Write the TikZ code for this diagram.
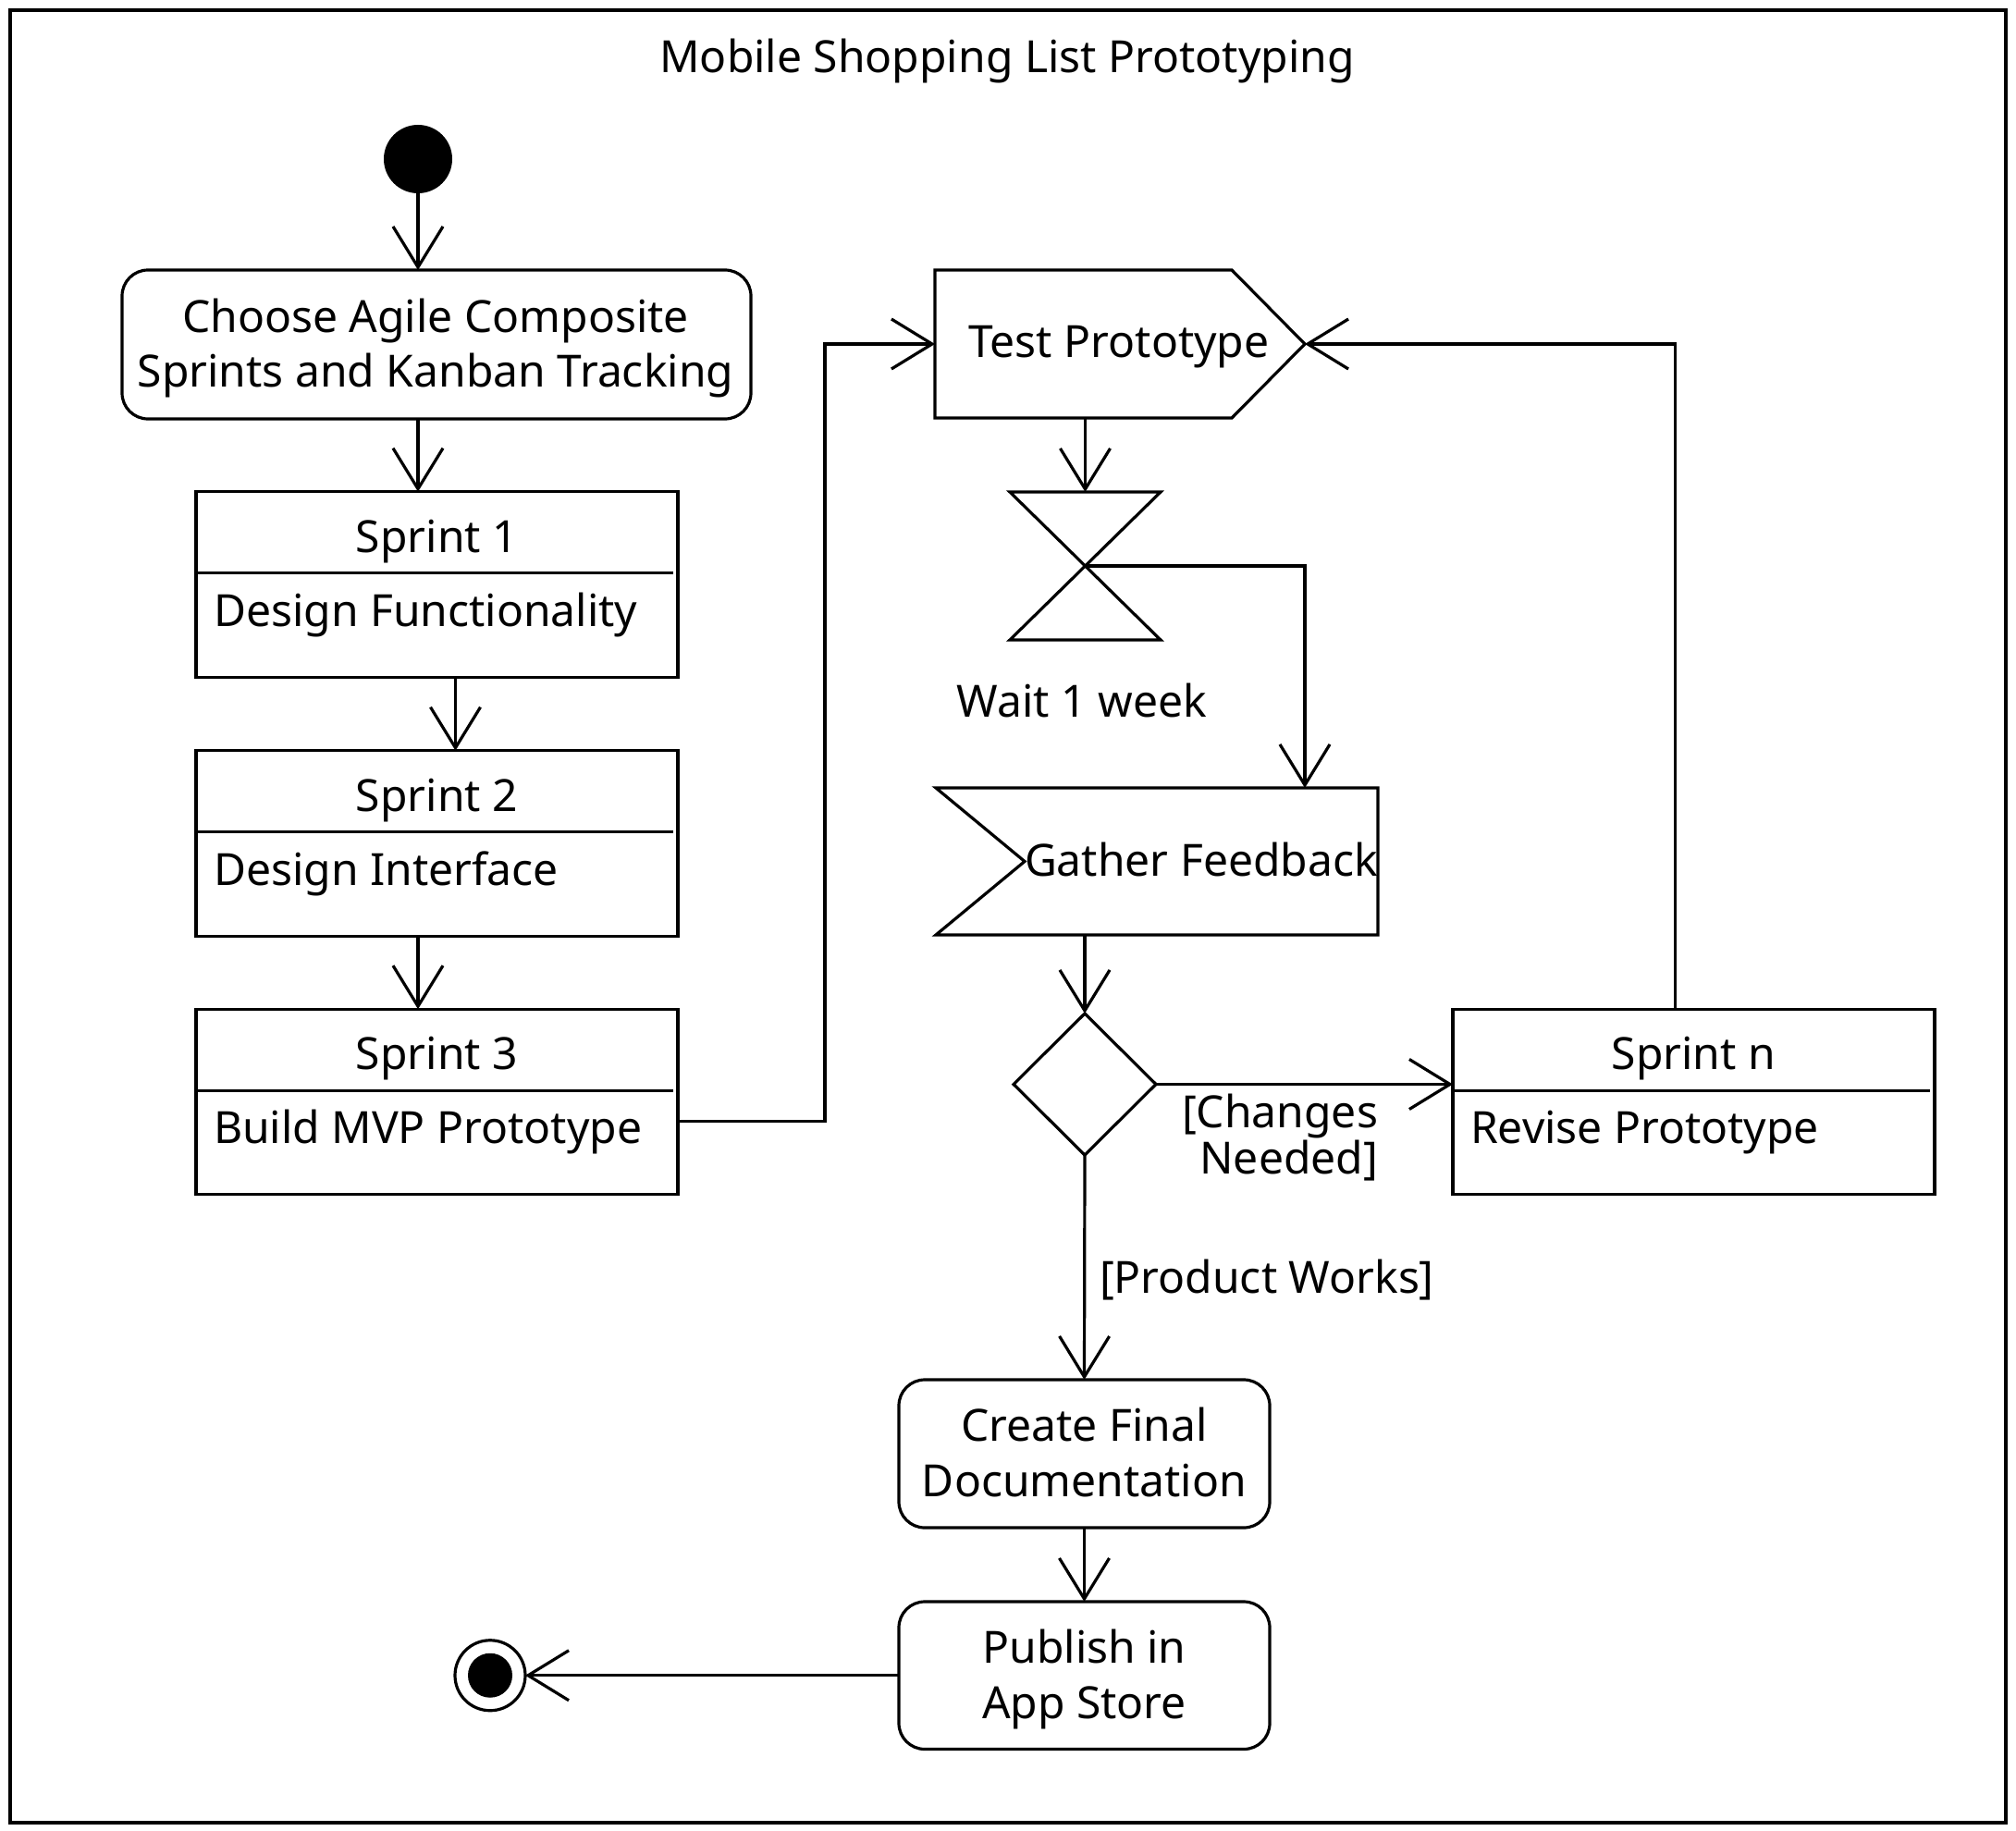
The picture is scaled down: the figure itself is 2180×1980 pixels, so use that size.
\documentclass[tikz,border=0pt]{standalone}
\usepackage{fontspec}
\setmainfont{Noto Sans}
\usetikzlibrary{arrows.meta,calc,shapes.geometric}
\begin{document}
\begin{tikzpicture}[x=0.5pt,y=-0.5pt,line width=1.6pt,
  every node/.style={inner sep=0pt,outer sep=0pt},
  txt/.style={font=\fontsize{24pt}{30pt}\selectfont,anchor=base},
  flow/.style={-{Straight Barb[length=22pt,width=27pt,line width=1.6pt]}},
  sprintbox/.style={draw,minimum width=260.5pt,minimum height=100.25pt},
  actbox/.style={draw,rounded corners=14pt}]
\path[use as bounding box] (0,0) rectangle (2180,1980);
\node[draw,minimum width=1079pt,minimum height=980pt] (frame) at (1090,991) {};
\node[txt] (title) at (1089,79) {Mobile Shopping List Prototyping};

% initial
\node[circle,fill,minimum size=37pt] (init) at (452,172) {};
% choose
\node[actbox,minimum width=340pt,minimum height=80.5pt] (choose) at (472,372.5) {};
\node[txt] (chooseA) at (471,359) {Choose Agile Composite};
\node[txt] (chooseB) at (471,418) {Sprints and Kanban Tracking};

% sprints
\node[sprintbox] (s1) at (472.5,632) {};
\node[sprintbox] (s2) at (472.5,912) {};
\node[sprintbox] (s3) at (472.5,1191.5) {};
\node[sprintbox] (sn) at (1831.5,1191.5) {};
\foreach \b/\t/\d in {s1/Sprint 1/Design Functionality,s2/Sprint 2/Design Interface,s3/Sprint 3/Build MVP Prototype,sn/Sprint n/Revise Prototype}{
  \draw ($(\b.north west)+(0,88)$) -- ($(\b.north east)+(-5,88)$);
  \node[txt] (\b t) at ($(\b.north)+(0,65.5)$) {\t};
  \node[txt,anchor=base west] (\b d) at ($(\b.north west)+(19,145.5)$) {\d};
}

% test prototype (send signal)
\node[minimum width=200pt,minimum height=80pt] (test) at (1211,372) {};
\draw (test.north west) -- ++(321,0) -- (test.east) -- ($(test.south west)+(321,0)$) -- (test.south west) -- cycle;
\node[txt] (testt) at (1210,386) {Test Prototype};

% timer
\node[minimum width=81.5pt,minimum height=80pt] (timer) at (1173.5,612) {};
\draw (timer.north west) -- (timer.north east) -- (timer.south west) -- (timer.south east) -- cycle;
\node[txt] (timert) at (1170,775) {Wait 1 week};

% gather feedback (accept event)
\node[minimum width=239pt,minimum height=79.5pt] (gather) at (1251,931.5) {};
\draw (gather.north west) -- (gather.north east) -- (gather.south east) -- (gather.south west) -- ($(gather.west)+(96,0)$) -- cycle;
\node[txt,anchor=base west] (gathert) at (1108,947) {Gather Feedback};

% decision
\node[diamond,draw,minimum width=77pt,minimum height=76.5pt] (dec) at (1173,1172.5) {};

% create / publish
\node[actbox,minimum width=200.5pt,minimum height=80pt] (create) at (1172.5,1572) {};
\node[txt] (createA) at (1172.5,1558) {Create Final};
\node[txt] (createB) at (1172.5,1618) {Documentation};
\node[actbox,minimum width=200.5pt,minimum height=79.75pt] (publish) at (1172.5,1811.75) {};
\node[txt] (publishA) at (1172.5,1798) {Publish in};
\node[txt] (publishB) at (1172.5,1858) {App Store};

% final
\node[circle,draw,minimum size=38pt] (final) at (530,1811.75) {};
\node[circle,fill,minimum size=24pt] (finalin) at (530,1811.75) {};

% connectors
\draw[flow] (init.south) -- (init.south |- choose.north);
\draw[flow] (choose.south -| init) -- (s1.north -| init);
\draw[flow] ($(s1.south)+(20,0)$) -- ($(s2.north)+(20,0)$);
\draw[flow] (s2.south -| init) -- (s3.north -| init);
\coordinate (s3out) at ($(s3.north east)+(0,121)$);
\draw[flow] (s3out) -- ++(159,0) |- (test.west);
\draw[flow] (timer.north |- test.south) -- (timer.north);
\coordinate (gin) at ($(gather.north east)+(-79,0)$);
\draw[flow] (timer.center) -| (gin);
\draw[flow] (dec.north |- gather.south) -- (dec.north);
\draw[flow] (dec.east) -- (dec.east -| sn.west);
\draw[flow] ($(sn.north)+(-20,0)$) |- (test.east);
\draw[flow] (dec.south) -- (create.north);
\draw[flow] (create.south) -- (publish.north);
\draw[flow] (publish.west) -- (final.east);

% guards
\node[txt,anchor=base east,align=right,font=\fontsize{24pt}{23.65pt}\selectfont] (g1) at (1490,1269) {[Changes\\Needed]};
\node[txt,anchor=base west] (g2) at (1189,1398) {[Product Works]};
\end{tikzpicture}
\end{document}
